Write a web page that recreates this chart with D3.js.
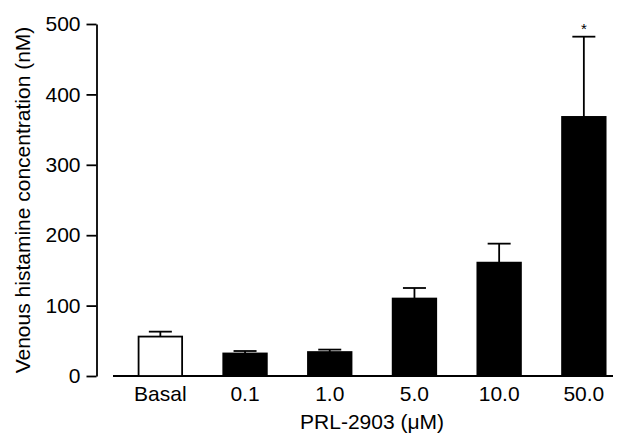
<!DOCTYPE html>
<html>
<head>
<meta charset="utf-8">
<script src="https://cdn.jsdelivr.net/npm/d3@7"></script>
<style>
  body { margin: 0; background: #fff; }
  svg text { font-family: "Liberation Sans", Arial, sans-serif; fill: #000; }
</style>
</head>
<body>
<div id="chart"></div>
<script>
// data
const categories = ["Basal", "0.1", "1.0", "5.0", "10.0", "50.0"];
const means = [56, 32, 34, 110, 161, 368];
const sems = [7, 3.5, 3.5, 15, 27, 114];
const openBars = ["Basal"];
const starred = ["50.0"];
const yTicks = [0, 100, 200, 300, 400, 500];

const width = 621, height = 435;
const fontSize = "21px";

const svg = d3.select("#chart")
  .append("svg")
  .attr("width", width)
  .attr("height", height);

// x: band per dose, centres spaced ~84.7px
const x = d3.scaleBand()
  .domain(categories)
  .range([118, 626.2])
  .paddingInner(0.486)
  .paddingOuter(0.243);

const y = d3.scaleLinear()
  .domain([0, 500])
  .range([376, 24]);

// Y axis
const yAxis = d3.axisLeft(y)
  .tickValues(yTicks)
  .tickSize(10)
  .tickPadding(6)
  .tickSizeOuter(0);

const yg = svg.append("g")
  .attr("transform", "translate(96.5,0)")
  .call(yAxis);
yg.select(".domain").attr("stroke", "#000").attr("stroke-width", 1.8);
yg.selectAll(".tick line").attr("stroke", "#000").attr("stroke-width", 1.8);
yg.selectAll(".tick text").style("font-size", fontSize).attr("font-family", null);

// baseline (x axis without ticks)
svg.append("line")
  .attr("x1", 113).attr("x2", 613)
  .attr("y1", y(0)).attr("y2", y(0))
  .attr("stroke", "#000")
  .attr("stroke-width", 1.8);

// bars
svg.append("g")
  .selectAll("rect")
  .data(categories)
  .enter()
  .append("rect")
  .attr("x", d => x(d))
  .attr("y", (d, i) => y(means[i]))
  .attr("width", x.bandwidth())
  .attr("height", (d, i) => y(0) - y(means[i]))
  .attr("fill", d => openBars.includes(d) ? "#fff" : "#000")
  .attr("stroke", "#000")
  .attr("stroke-width", 1.8);

// error bars (upper only)
const capW = 23;
const err = svg.append("g")
  .attr("stroke", "#000")
  .attr("stroke-width", 1.8);

categories.forEach((c, i) => {
  const cx = x(c) + x.bandwidth() / 2;
  err.append("line")
    .attr("x1", cx).attr("x2", cx)
    .attr("y1", y(means[i])).attr("y2", y(means[i] + sems[i]));
  err.append("line")
    .attr("x1", cx - capW / 2).attr("x2", cx + capW / 2)
    .attr("y1", y(means[i] + sems[i])).attr("y2", y(means[i] + sems[i]));
  if (starred.includes(c)) {
    svg.append("text")
      .attr("x", cx)
      .attr("y", y(means[i] + sems[i]) - 3)
      .attr("text-anchor", "middle")
      .style("font-size", "15px")
      .text("*");
  }
});

// category labels
svg.append("g")
  .selectAll("text")
  .data(categories)
  .enter()
  .append("text")
  .attr("x", d => x(d) + x.bandwidth() / 2)
  .attr("y", 401)
  .attr("text-anchor", "middle")
  .style("font-size", fontSize)
  .text(d => d);

// axis titles
svg.append("text")
  .attr("x", (x(categories[0]) + x(categories[categories.length - 1]) + x.bandwidth()) / 2)
  .attr("y", 429)
  .attr("text-anchor", "middle")
  .style("font-size", fontSize)
  .text("PRL-2903 (μM)");

svg.append("text")
  .attr("transform", "translate(30," + (y(0) + y(500)) / 2 + ") rotate(-90)")
  .attr("text-anchor", "middle")
  .style("font-size", fontSize)
  .text("Venous histamine concentration (nM)");
</script>
</body>
</html>
